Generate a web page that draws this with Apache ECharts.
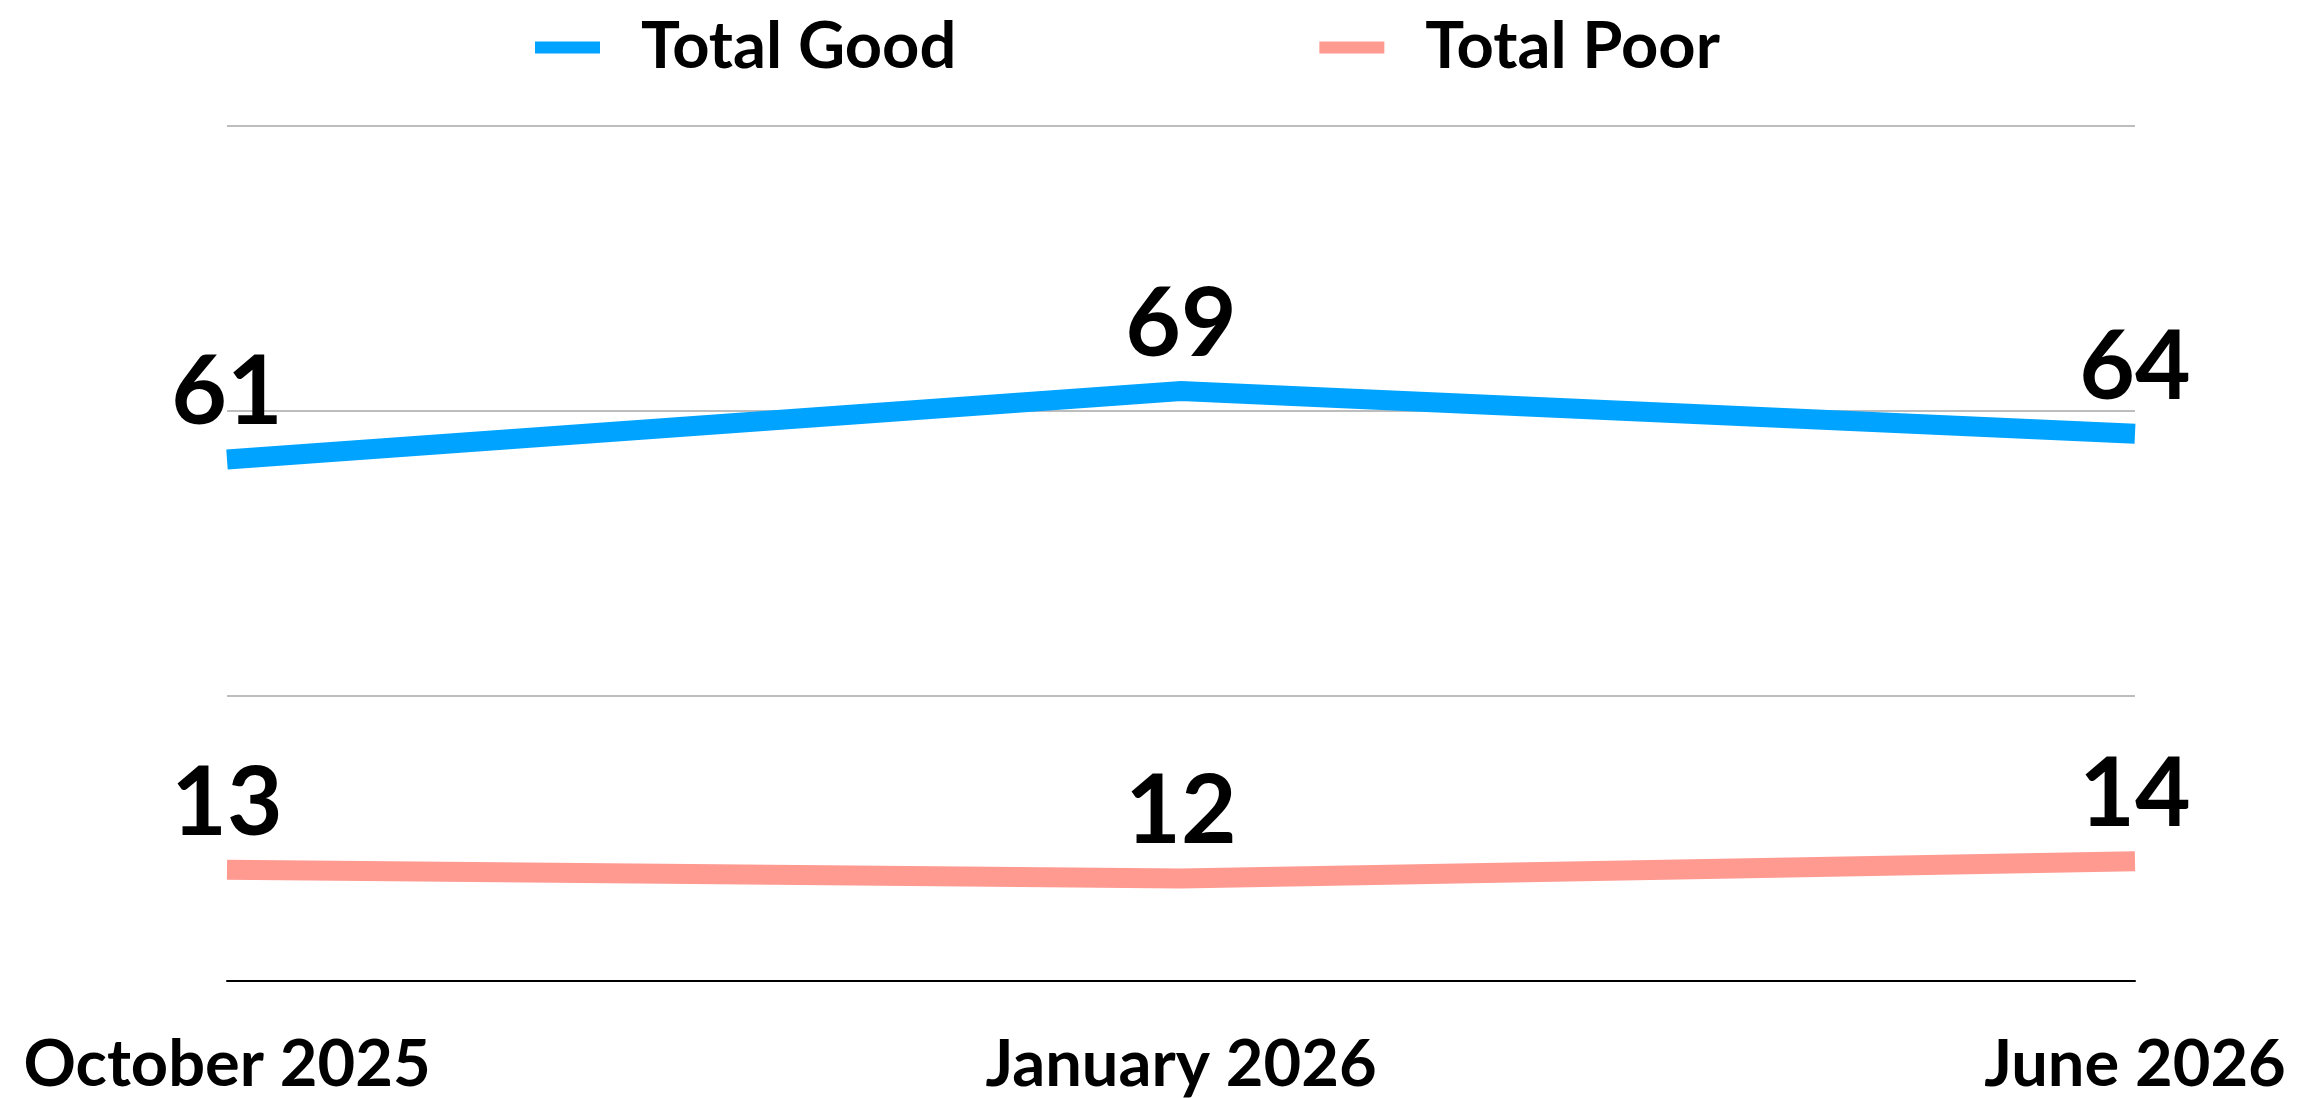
<!DOCTYPE html>
<html>
<head>
<meta charset="utf-8">
<script src="https://cdn.jsdelivr.net/npm/echarts@6/dist/echarts.min.js"></script>
<style>
html,body{margin:0;padding:0;background:#fff;}
#chart{width:2310px;height:1098px;}
</style>
</head>
<body>
<div id="chart"></div>
<script>
const categories = ['October 2025', 'January 2026', 'June 2026'];
const seriesNames = ['Total Good', 'Total Poor'];
const goodValues = [61, 69, 64];
const poorValues = [13, 12, 14];
const yTicks = [0, 100 / 3, 200 / 3, 100];

const FONT = 'Lato';
const chart = echarts.init(document.getElementById('chart'));
const labelStyle = {
  show: true,
  position: 'top',
  distance: 18,
  color: '#000',
  fontFamily: FONT,
  fontWeight: 'bold',
  fontSize: 96
};
chart.setOption({
  animation: false,
  backgroundColor: '#fff',
  legend: {
    data: seriesNames,
    left: 530,
    top: 10,
    icon: 'rect',
    itemWidth: 65,
    itemHeight: 12,
    itemGap: 363,
    textStyle: {
      color: '#000',
      fontFamily: FONT,
      fontWeight: 'bold',
      fontSize: 65,
      padding: [0, 0, 0, 36]
    }
  },
  grid: { left: 227, right: 175, top: 126, bottom: 116, containLabel: false },
  xAxis: {
    type: 'category',
    data: categories,
    boundaryGap: false,
    axisLine: { show: true, lineStyle: { color: '#000', width: 2 } },
    axisTick: { show: false },
    splitLine: { show: false },
    axisLabel: {
      color: '#000',
      fontFamily: FONT,
      fontWeight: 'bold',
      fontSize: 65,
      margin: 52,
      interval: 0
    }
  },
  yAxis: {
    type: 'value',
    min: yTicks[0],
    max: yTicks[yTicks.length - 1],
    interval: yTicks[1] - yTicks[0],
    axisLine: { show: false },
    axisTick: { show: false },
    axisLabel: { show: false },
    splitLine: { show: true, lineStyle: { color: '#bdbdbd', width: 2 } }
  },
  series: [
    {
      name: seriesNames[0],
      type: 'line',
      data: goodValues,
      symbol: 'circle',
      symbolSize: 0,
      showSymbol: true,
      color: '#00a3ff',
      lineStyle: { color: '#00a3ff', width: 20, cap: 'butt', join: 'miter' },
      itemStyle: { color: '#00a3ff' },
      label: labelStyle,
      z: 3
    },
    {
      name: seriesNames[1],
      type: 'line',
      data: poorValues,
      symbol: 'circle',
      symbolSize: 0,
      showSymbol: true,
      color: '#ff9a91',
      lineStyle: { color: '#ff9a91', width: 20, cap: 'butt', join: 'miter' },
      itemStyle: { color: '#ff9a91' },
      label: labelStyle,
      z: 3
    }
  ]
});
</script>
</body>
</html>
